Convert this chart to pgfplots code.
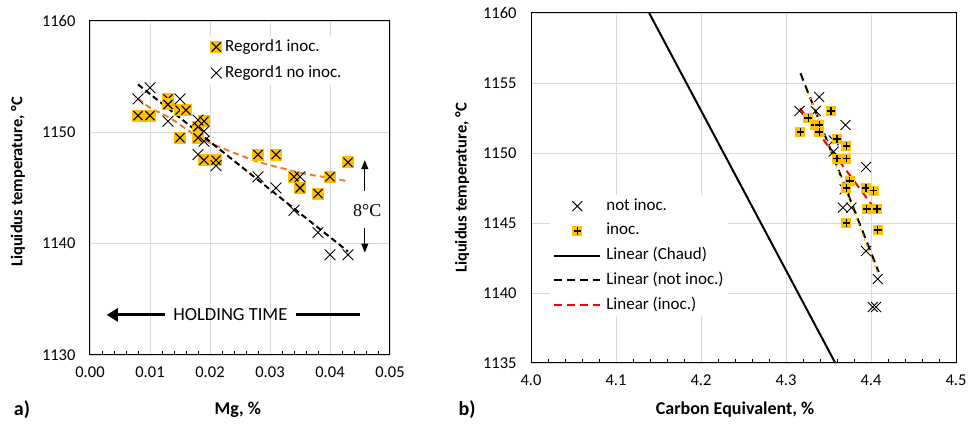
\documentclass[border=0pt]{standalone}
\usepackage{fontspec}
\setmainfont{Carlito}
\newfontfamily\timesfont{Liberation Serif}
\usepackage{pgfplots}
\pgfplotsset{compat=1.18}
\usetikzlibrary{arrows.meta}

\definecolor{inocyellow}{HTML}{FFC000}
\definecolor{trendorange}{HTML}{ED7D31}
\definecolor{gridgray}{HTML}{D9D9D9}

% yellow square with a black cross (Mg plot)
\pgfdeclareplotmark{sqx}{%
  \pgfpathrectangle{\pgfpoint{-\pgfplotmarksize}{-\pgfplotmarksize}}{\pgfpoint{2\pgfplotmarksize}{2\pgfplotmarksize}}%
  \pgfsetfillcolor{inocyellow}\pgfusepathqfill
  \pgfsetstrokecolor{black}%
  \pgfpathmoveto{\pgfpoint{-0.75\pgfplotmarksize}{-0.75\pgfplotmarksize}}%
  \pgfpathlineto{\pgfpoint{0.75\pgfplotmarksize}{0.75\pgfplotmarksize}}%
  \pgfpathmoveto{\pgfpoint{-0.75\pgfplotmarksize}{0.75\pgfplotmarksize}}%
  \pgfpathlineto{\pgfpoint{0.75\pgfplotmarksize}{-0.75\pgfplotmarksize}}%
  \pgfusepathqstroke
}
% yellow square with a black plus (CE plot)
\pgfdeclareplotmark{sqplus}{%
  \pgfpathrectangle{\pgfpoint{-\pgfplotmarksize}{-\pgfplotmarksize}}{\pgfpoint{2\pgfplotmarksize}{2\pgfplotmarksize}}%
  \pgfsetfillcolor{inocyellow}\pgfusepathqfill
  \pgfsetstrokecolor{black}%
  \pgfpathmoveto{\pgfpoint{-0.75\pgfplotmarksize}{0pt}}%
  \pgfpathlineto{\pgfpoint{0.75\pgfplotmarksize}{0pt}}%
  \pgfpathmoveto{\pgfpoint{0pt}{0.75\pgfplotmarksize}}%
  \pgfpathlineto{\pgfpoint{0pt}{-0.75\pgfplotmarksize}}%
  \pgfusepathqstroke
}

\pgfplotsset{
  excelaxis/.style={
    scale only axis,
    axis line style={black, line width=1pt},
    grid=major,
    major grid style={gridgray, line width=0.9pt},
    major tick length=0pt,
    minor tick length=4pt,
    tick align=inside,
    xtick pos=bottom, ytick pos=left,
    minor y tick num=0,
    minor tick style={black, line width=0.8pt},
    tick label style={font=\fontsize{16.5}{19}\selectfont},
    /pgf/number format/assume math mode=true,
    xlabel style={font=\bfseries\fontsize{18}{21}\selectfont},
    ylabel style={font=\bfseries\fontsize{16.5}{20}\selectfont},
    xticklabel shift=8pt,
    yticklabel shift=11pt,
    scaled ticks=false,
    legend cell align=left,
    clip=false,
  },
  marklegend/.style={legend image code/.code={\draw[##1] plot coordinates {(#1,0pt)};}},
  linelegend/.style={legend image code/.code={\draw[##1] (0pt,0pt) -- (#1,0pt);}},
}

\begin{document}
\begin{tikzpicture}
\useasboundingbox (0pt,0pt) rectangle (969pt,430pt);

% ---------------- a) liquidus vs Mg ----------------
\begin{axis}[excelaxis,
  at={(90pt,75pt)}, anchor=south west,
  width=300pt, height=334pt,
  xmin=0, xmax=0.05, ymin=1130, ymax=1160,
  xtick={0,0.01,0.02,0.03,0.04,0.05},
  ytick={1130,1140,1150,1160},
  minor x tick num=4,
  xticklabel style={/pgf/number format/.cd, fixed, fixed zerofill, precision=2},
  yticklabel style={/pgf/number format/.cd, set thousands separator={}},
  xlabel={Mg, \%},
  ylabel={Liquidus temperature, °C},
  xlabel style={at={(axis description cs:0.493,-0.165)}, anchor=center},
  ylabel style={at={(axis description cs:-0.24,0.518)}, anchor=center, rotate=0},
  legend style={at={(0.39,0.957)}, anchor=north west, draw=none, fill=white,
    font=\fontsize{17}{20}\selectfont, inner sep=3pt, row sep=9pt,
    column sep=2pt, nodes={inner sep=1pt, text height=11.5pt, text depth=3.5pt}},
  marklegend=0pt,
]
\addplot[only marks, mark=sqx, mark size=6pt, mark options={line width=1.1pt}] coordinates {
  (0.008,1151.5) (0.010,1151.5) (0.013,1153) (0.013,1152.5)
  (0.015,1152) (0.016,1152) (0.015,1149.5) (0.018,1150.5)
  (0.019,1151) (0.018,1149.5) (0.019,1147.5) (0.021,1147.5)
  (0.028,1148) (0.031,1148) (0.034,1146) (0.035,1145)
  (0.038,1144.5) (0.040,1146) (0.043,1147.3)
};
\addlegendentry{Regord1 inoc.}
\addplot[only marks, mark=x, mark size=7.6pt, mark options={black, line width=0.9pt}] coordinates {
  (0.008,1153) (0.010,1154) (0.013,1151) (0.015,1153)
  (0.018,1151.1) (0.019,1150.1) (0.019,1149.2) (0.018,1148)
  (0.021,1147) (0.028,1146) (0.031,1145) (0.034,1143)
  (0.035,1146) (0.038,1141) (0.040,1139) (0.043,1139)
};
\addlegendentry{Regord1 no inoc.}
% trend lines
\addplot[forget plot, trendorange, line width=2pt, dash pattern=on 6pt off 4pt, smooth, tension=0.5] coordinates {
  (0.008,1153.05) (0.010,1152.2) (0.0133,1151.3) (0.019,1149.3)
  (0.0272,1147.5) (0.0311,1146.9) (0.0356,1146.3) (0.040,1145.9) (0.043,1145.6)
};
\addplot[forget plot, black, line width=2pt, dash pattern=on 6pt off 3.5pt] coordinates {
  (0.008,1154.3) (0.043,1139.3)
};
% annotations
\draw[line width=1pt, -{Triangle[length=9pt,width=7pt]}] (axis cs:0.0458,1144.7) -- (axis cs:0.0458,1147.5);
\draw[line width=1pt, -{Triangle[length=9pt,width=7pt]}] (axis cs:0.0458,1141.4) -- (axis cs:0.0458,1139.2);
\node[font=\timesfont\fontsize{18}{20}\selectfont, inner sep=0pt] at (axis cs:0.0462,1143.0) {8°C};
\draw[line width=3pt, -{Triangle[length=11pt,width=13pt]}] (axis cs:0.0125,1133.6) -- (axis cs:0.0028,1133.6);
\draw[line width=3pt] (axis cs:0.0343,1133.6) -- (axis cs:0.0450,1133.6);
\node[font=\fontsize{18.5}{21}\selectfont, inner sep=0pt] at (axis cs:0.0234,1133.6) {HOLDING TIME};
\end{axis}

% ---------------- b) liquidus vs carbon equivalent ----------------
\begin{axis}[excelaxis,
  at={(531pt,67pt)}, anchor=south west,
  width=425pt, height=350pt,
  xmin=4, xmax=4.5, ymin=1135, ymax=1160,
  xtick={4,4.1,4.2,4.3,4.4,4.5},
  ytick={1135,1140,1145,1150,1155,1160},
  minor x tick num=4,
  xticklabel style={/pgf/number format/.cd, fixed, fixed zerofill, precision=1},
  yticklabel style={/pgf/number format/.cd, set thousands separator={}},
  xlabel={Carbon Equivalent, \%},
  ylabel={Liquidus temperature, °C},
  xlabel style={at={(axis description cs:0.48,-0.134)}, anchor=center},
  ylabel style={at={(axis description cs:-0.162,0.5)}, anchor=center, rotate=0},
  legend style={at={(0.045,0.48)}, anchor=north west, draw=none, fill=white,
    font=\fontsize{17}{20}\selectfont, inner sep=3pt, row sep=8.75pt,
    column sep=4pt, nodes={inner sep=1pt, text height=11pt, text depth=3pt}},
  linelegend=46pt,
]
\addplot[only marks, mark=x, mark size=7pt, mark options={black, line width=0.9pt},
  marklegend=23pt] coordinates {
  (4.339,1154) (4.316,1153) (4.335,1153) (4.370,1152)
  (4.356,1150.9) (4.356,1150.1) (4.394,1149) (4.369,1147.4)
  (4.367,1146.1) (4.377,1146.1) (4.394,1143) (4.408,1141)
  (4.402,1139) (4.406,1139)
};
\addlegendentry{not inoc.}
\addplot[only marks, mark=sqplus, mark size=5pt, mark options={line width=1.2pt},
  marklegend=23pt] coordinates {
  (4.353,1153) (4.326,1152.5) (4.317,1151.5) (4.334,1152)
  (4.339,1152) (4.339,1151.5) (4.360,1151) (4.371,1150.5)
  (4.360,1149.6) (4.371,1149.6) (4.375,1148) (4.371,1147.5)
  (4.394,1147.5) (4.403,1147.3) (4.395,1146) (4.407,1146)
  (4.371,1145) (4.408,1144.5)
};
\addlegendentry{inoc.}
\addplot[black, line width=2pt] coordinates {(4.139,1160) (4.358,1135)};
\addlegendentry{Linear (Chaud)}
\addplot[black, line width=2pt, dash pattern=on 8pt off 5pt] coordinates {(4.317,1155.7) (4.409,1141.5)};
\addlegendentry{Linear (not inoc.)}
\addplot[red, line width=2pt, dash pattern=on 8pt off 5pt] coordinates {(4.3165,1153.2) (4.407,1145.8)};
\addlegendentry{Linear (inoc.)}
\addplot[forget plot, inocyellow, line width=1.6pt, dash pattern=on 1.6pt off 4pt] coordinates {(4.326,1154.3) (4.409,1141.2)};
\end{axis}

\node[font=\bfseries\fontsize{20}{24}\selectfont, inner sep=0pt] at (22pt,20pt) {a)};
\node[font=\bfseries\fontsize{20}{24}\selectfont, inner sep=0pt] at (467pt,20pt) {b)};
\end{tikzpicture}
\end{document}
